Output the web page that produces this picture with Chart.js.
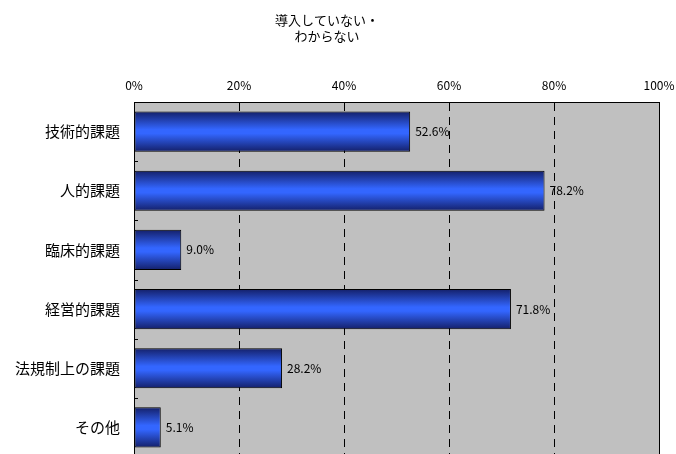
<!DOCTYPE html>
<html lang="ja">
<head>
<meta charset="utf-8">
<title>導入していない・わからない</title>
<script src="https://cdn.jsdelivr.net/npm/chart.js@4.4.1/dist/chart.umd.min.js"></script>
<style>
  html, body { margin: 0; padding: 0; background: #fff; overflow: hidden; }
  canvas { display: block; }
</style>
</head>
<body>
<canvas id="chart" width="676" height="457"></canvas>
<script>
// 課題ごとの割合 (%)
const categories = ['技術的課題', '人的課題', '臨床的課題', '経営的課題', '法規制上の課題', 'その他'];
const values = [52.6, 78.2, 9.0, 71.8, 28.2, 5.1];
const titleLines = ['導入していない・', 'わからない'];
const xTicks = [0, 20, 40, 60, 80, 100];

const jpFont = '"Noto Sans CJK JP", "Noto Sans", sans-serif';

// 横棒のグラデーション (上下が濃紺、中央が明るい青)
const barFill = (ctx) => {
    const chart = ctx.chart;
    const y = chart.scales.y;
    if (!y || ctx.type !== 'data') {
        return '#3060ff';
    }
    const c = y.getPixelForValue(ctx.dataIndex);
    if (!isFinite(c)) {
        return '#3060ff';
    }
    const h = 20;
    const g = chart.ctx.createLinearGradient(0, c - h, 0, c + h);
    g.addColorStop(0, '#14206a');
    g.addColorStop(0.45, '#3366ff');
    g.addColorStop(0.55, '#3366ff');
    g.addColorStop(1, '#14206a');
    return g;
};

// 目盛りラベルのはみ出し分の余白を消す
const noOverhang = (s) => {
    s.paddingLeft = 0;
    s.paddingRight = 0;
    s.paddingTop = 0;
    s.paddingBottom = 0;
};

// プロット領域の背景と右枠、左側の小さな目盛り
const plotArea = {
    id: 'plotArea',
    beforeDraw(chart) {
        const { ctx, chartArea: a } = chart;
        ctx.save();
        ctx.fillStyle = '#c0c0c0';
        ctx.fillRect(a.left, a.top, a.right - a.left, a.bottom - a.top);
        ctx.restore();
    },
    afterDraw(chart) {
        const { ctx, chartArea: a } = chart;
        const y = chart.scales.y;
        ctx.save();
        ctx.strokeStyle = '#000';
        ctx.lineWidth = 1;
        ctx.beginPath();
        ctx.moveTo(Math.round(a.right) + 0.5, a.top);
        ctx.lineTo(Math.round(a.right) + 0.5, a.bottom);
        for (let i = 1; i < categories.length; i++) {
            const yy = Math.round((y.getPixelForValue(i - 1) + y.getPixelForValue(i)) / 2) + 0.5;
            ctx.moveTo(a.left, yy);
            ctx.lineTo(a.left + 4, yy);
        }
        ctx.stroke();
        ctx.restore();
    }
};

// 棒の右側に値を表示
const valueLabels = {
    id: 'valueLabels',
    afterDatasetsDraw(chart) {
        const { ctx } = chart;
        const meta = chart.getDatasetMeta(0);
        ctx.save();
        ctx.font = '12px ' + jpFont;
        ctx.fillStyle = '#000';
        ctx.textAlign = 'left';
        ctx.textBaseline = 'middle';
        meta.data.forEach((bar, i) => {
            ctx.fillText(values[i].toFixed(1) + '%', bar.x + 5, bar.y);
        });
        ctx.restore();
    }
};

// タイトル (2行)
const titleText = {
    id: 'titleText',
    afterDraw(chart) {
        const { ctx } = chart;
        ctx.save();
        ctx.font = '13px ' + jpFont;
        ctx.fillStyle = '#000';
        ctx.textAlign = 'center';
        ctx.textBaseline = 'middle';
        ctx.fillText(titleLines[0], 327, 20);
        ctx.fillText(titleLines[1], 327, 36);
        ctx.restore();
    }
};

new Chart(document.querySelector('#chart'), {
    type: 'bar',
    data: {
        labels: categories,
        datasets: [{
            data: values,
            backgroundColor: barFill,
            borderColor: '#000',
            borderWidth: 1,
            borderSkipped: false,
            barPercentage: 0.68,
            categoryPercentage: 1
        }]
    },
    options: {
        indexAxis: 'y',
        responsive: false,
        animation: false,
        layout: { padding: { left: 0, right: 17, top: 0, bottom: 0 } },
        plugins: {
            legend: { display: false },
            tooltip: { enabled: false }
        },
        scales: {
            x: {
                position: 'top',
                min: 0,
                max: 100,
                afterBuildTicks: (s) => { s.ticks = xTicks.map(v => ({ value: v })); },
                afterFit: (s) => { s.height = 102; noOverhang(s); },
                ticks: {
                    padding: 9,
                    color: '#000',
                    font: { family: jpFont, size: 12 },
                    callback: (v) => v + '%'
                },
                grid: {
                    drawTicks: false,
                    lineWidth: 1,
                    color: (c) => (c.tick && (c.tick.value === 0 || c.tick.value === 100)) ? 'rgba(0,0,0,0)' : '#000'
                },
                border: { display: true, color: '#000', width: 1, dash: [8, 6] }
            },
            y: {
                afterFit: (s) => { s.width = 134; noOverhang(s); },
                ticks: {
                    padding: 14,
                    color: '#000',
                    font: { family: jpFont, size: 15 }
                },
                grid: { display: false, drawTicks: false },
                border: { display: true, color: '#000', width: 1 }
            }
        }
    },
    plugins: [plotArea, valueLabels, titleText]
});
</script>
</body>
</html>
